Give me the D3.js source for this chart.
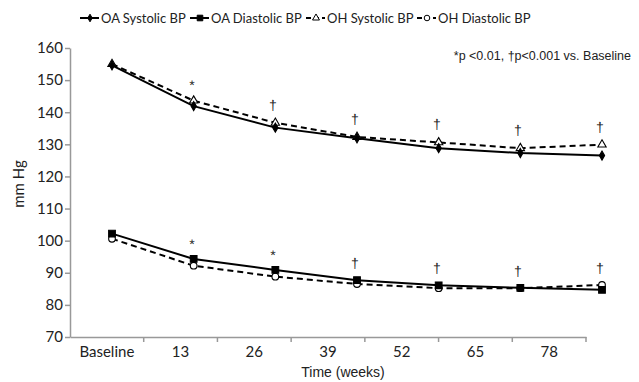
<!DOCTYPE html>
<html><head><meta charset="utf-8">
<script src="https://cdn.jsdelivr.net/npm/d3@7"></script>
<style>body{margin:0;background:#fff}svg{display:block}</style>
</head><body>
<script>
const categories = ["Baseline","13","26","39","52","65","78"];
const oaSys = [154.6, 141.9, 135.2, 131.9, 128.8, 127.3, 126.5];
const ohSys = [155.0, 143.6, 136.7, 132.3, 130.6, 128.8, 129.9];
const oaDia = [102.2, 94.3, 90.9, 87.7, 86.1, 85.3, 84.7];
const ohDia = [100.6, 92.2, 88.8, 86.5, 85.2, 85.2, 86.2];
const sysMarks = ["", "*", "\u2020", "\u2020", "\u2020", "\u2020", "\u2020"];
const diaMarks = ["", "*", "*", "\u2020", "\u2020", "\u2020", "\u2020"];
const yTicks = [70,80,90,100,110,120,130,140,150,160];

const W=639,H=382;
const svg=d3.select("body").append("svg").attr("width",W).attr("height",H);
const y=d3.scaleLinear().domain([70,160]).range([337,48]);
const xBand=d3.scaleBand().domain(categories).range([70,586]);
const xPt=d3.scalePoint().domain(categories).range([112,602]);
const font="Lato, Open Sans, sans-serif";
const axisCol="#999";

// y axis
const ya=svg.append("g").attr("transform","translate(70,0)")
  .call(d3.axisLeft(y).tickValues(yTicks).tickSize(5).tickSizeOuter(0).tickFormat(d3.format("d")));
ya.select(".domain").attr("stroke",axisCol).attr("stroke-width",1.5);
ya.selectAll(".tick line").attr("stroke",axisCol).attr("stroke-width",1.5);
ya.selectAll("text").attr("font-family",font).attr("font-size",15).attr("fill","#222").attr("x",-7);

// x axis
const xa=svg.append("g").attr("transform","translate(0,337)")
  .call(d3.axisBottom(xBand).tickSize(0).tickSizeOuter(0));
xa.select(".domain").attr("stroke",axisCol).attr("stroke-width",1.5);
xa.selectAll("text").attr("font-family",font).attr("font-size",15).attr("fill","#222").attr("dy","1.1em");
xa.selectAll(".bnd").data(categories.slice(1)).enter().append("line")
  .attr("x1",d=>xBand(d)).attr("x2",d=>xBand(d)).attr("y1",0).attr("y2",5)
  .attr("stroke",axisCol).attr("stroke-width",1.5);
xa.append("line").attr("x1",586).attr("x2",586).attr("y1",0).attr("y2",5).attr("stroke",axisCol).attr("stroke-width",1.5);

svg.append("text").attr("x",343).attr("y",377).attr("text-anchor","middle")
  .attr("font-family","Liberation Sans, Arial, sans-serif").attr("font-size",14).attr("fill","#222").text("Time (weeks)");
svg.append("text").attr("transform","translate(24,184) rotate(-90)").attr("text-anchor","middle")
  .attr("font-family",font).attr("font-size",15).attr("fill","#222").text("mm Hg");

const line=d3.line().x((d,i)=>xPt(categories[i])).y(d=>y(d));
const series=[
 {name:"OA Systolic BP",data:oaSys,dash:null,sym:d3.symbolDiamond,size:24,fill:"#000"},
 {name:"OA Diastolic BP",data:oaDia,dash:null,sym:d3.symbolSquare,size:45,fill:"#000"},
 {name:"OH Systolic BP",data:ohSys,dash:"6,4",sym:d3.symbolTriangle,size:30,fill:"#fff"},
 {name:"OH Diastolic BP",data:ohDia,dash:"6,4",sym:d3.symbolCircle,size:35,fill:"#fff"}
];
[2,3,0,1].forEach(k=>{
  const s=series[k];
  svg.append("path").datum(s.data).attr("d",line).attr("fill","none")
    .attr("stroke","#000").attr("stroke-width",2).attr("stroke-dasharray",s.dash);
});
[2,3,0,1].forEach(k=>{
  const s=series[k];
  svg.selectAll(null).data(s.data).enter().append("path")
    .attr("d",d3.symbol().type(s.sym).size(s.size))
    .attr("transform",(d,i)=>`translate(${xPt(categories[i])},${y(d)})`)
    .attr("fill",s.fill).attr("stroke","#000").attr("stroke-width",1.1);
});

// significance marks (tiny rotation keeps glyphs greyscale-antialiased)
function marks(arr,top,off){
  svg.selectAll(null).data(arr).enter().append("text")
    .attr("transform",(d,i)=>`translate(${Math.round(xPt(categories[i])-2)},${Math.round(y(top[i])-off+(d==="*"?7:5))}) rotate(0.2)`)
    .attr("text-anchor","middle").attr("font-family","Liberation Sans, Arial, sans-serif")
    .attr("font-size",14).attr("fill","#222")
    .text(d=>d);
}
const sysTop=ohSys.map((v,i)=>Math.max(v,oaSys[i]));
const diaTop=oaDia.map((v,i)=>Math.max(v,ohDia[i]));
marks(sysMarks,sysTop,18);
marks(diaMarks,diaTop,17);

svg.append("text").attr("x",631).attr("y",60).attr("text-anchor","end")
  .attr("font-family","Liberation Sans, Arial, sans-serif").attr("font-size",12.5).attr("fill","#222")
  .text("*p <0.01, \u2020p<0.001 vs. Baseline");

// legend
const lx=[80,190,306,417];
series.forEach((s,i)=>{
  const g=svg.append("g").attr("transform",`translate(${lx[i]},18)`);
  g.append("line").attr("x1",0).attr("x2",19).attr("y1",0).attr("y2",0)
    .attr("stroke","#000").attr("stroke-width",2).attr("stroke-dasharray",s.dash?"5,3":null);
  g.append("path").attr("d",d3.symbol().type(s.sym).size(s.size*0.7)).attr("transform","translate(10,0)")
    .attr("fill",s.fill).attr("stroke","#000").attr("stroke-width",1);
  g.append("text").attr("x",21).attr("y",5).attr("font-family",font).attr("font-size",13)
    .attr("fill","#222").text(s.name);
});
</script>
</body></html>
